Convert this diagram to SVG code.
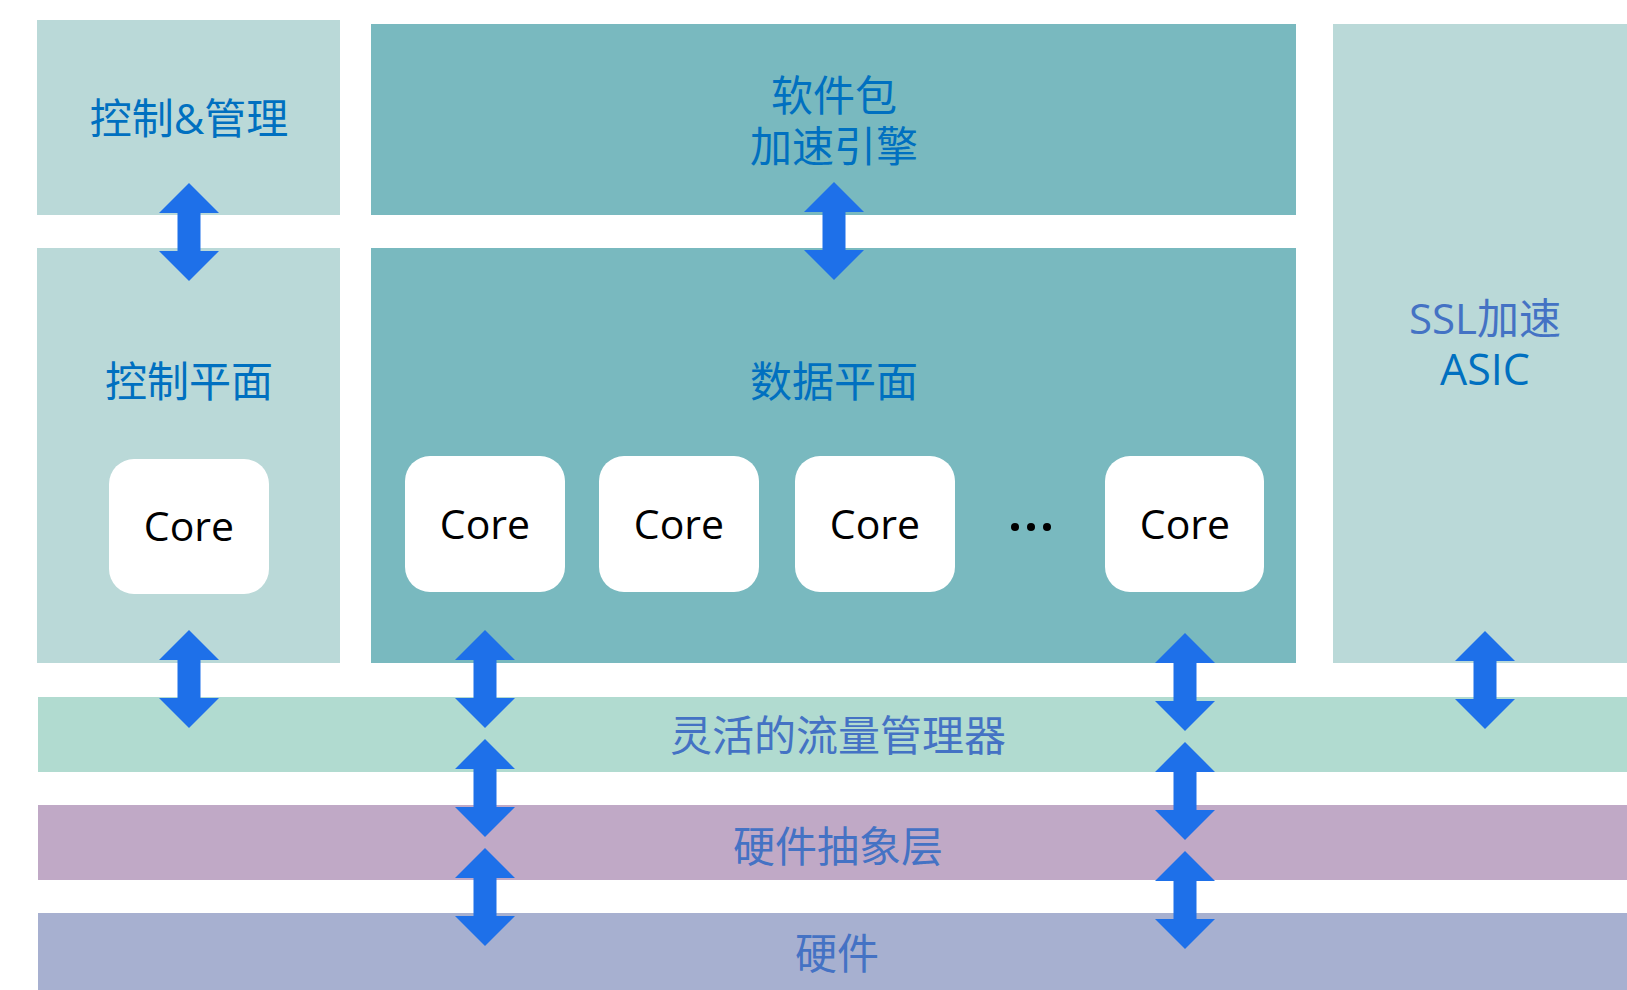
<svg xmlns="http://www.w3.org/2000/svg" width="1627" height="990" viewBox="0 0 1627 990">
<style>
.light{fill:#BAD9D8}
.dark{fill:#79B9BF}
.flow{fill:#B1DBD0}
.hal{fill:#C0A9C6}
.hw{fill:#A7B0D0}
.core{fill:#FFFFFF}
.t{font-family:"Open Sans","Noto Sans CJK SC",sans-serif;font-size:42px;text-anchor:middle}
.blue{fill:#0070C0}
.blue2{fill:#4472C4}
.ct{font-family:"Open Sans","Noto Sans",sans-serif;font-size:41px;fill:#000;text-anchor:middle}
.arr{fill:#1E70E9}
</style>
<defs>
<path id="dbl" class="arr" d="M0,0 L30,30 L11.5,30 L11.5,68 L30,68 L0,98 L-30,68 L-11.5,68 L-11.5,30 L-30,30 Z"/>
</defs>
<rect width="1627" height="990" fill="#FFFFFF"/>
<g id="ctrl-mgmt">
<rect class="light" x="37" y="20" width="303" height="195"/>
<text class="t blue" x="189" y="134">控制&amp;管理</text>
</g>
<g id="sw-accel">
<rect class="dark" x="371" y="24" width="925" height="191"/>
<text class="t blue" x="834" y="111">软件包</text>
<text class="t blue" x="834" y="162">加速引擎</text>
</g>
<g id="ctrl-plane">
<rect class="light" x="37" y="248" width="303" height="415"/>
<text class="t blue" x="189" y="397">控制平面</text>
</g>
<g id="data-plane">
<rect class="dark" x="371" y="248" width="925" height="415"/>
<text class="t blue" x="834" y="397">数据平面</text>
</g>
<g id="ssl">
<rect class="light" x="1333" y="24" width="294" height="639"/>
<text class="t blue2" x="1485" y="334">SSL加速</text>
<text class="t blue" x="1485" y="385" style="font-size:43px">ASIC</text>
</g>
<g id="core-ctrl">
<rect class="core" x="109" y="459" width="160" height="135" rx="25"/>
<text class="ct" x="189" y="541">Core</text>
</g>
<g id="core-1">
<rect class="core" x="405" y="456" width="160" height="136" rx="25"/>
<text class="ct" x="485" y="539">Core</text>
</g>
<g id="core-2">
<rect class="core" x="599" y="456" width="160" height="136" rx="25"/>
<text class="ct" x="679" y="539">Core</text>
</g>
<g id="core-3">
<rect class="core" x="795" y="456" width="160" height="136" rx="25"/>
<text class="ct" x="875" y="539">Core</text>
</g>
<g id="ellipsis">
<circle cx="1015" cy="527" r="4" fill="#000"/>
<circle cx="1031" cy="527" r="4" fill="#000"/>
<circle cx="1047" cy="527" r="4" fill="#000"/>
</g>
<g id="core-n">
<rect class="core" x="1105" y="456" width="159" height="136" rx="25"/>
<text class="ct" x="1185" y="539">Core</text>
</g>
<g id="flow-mgr">
<rect class="flow" x="38" y="697" width="1589" height="75"/>
<text class="t blue2" x="838" y="751">灵活的流量管理器</text>
</g>
<g id="hal">
<rect class="hal" x="38" y="805" width="1589" height="75"/>
<text class="t blue2" x="838" y="862">硬件抽象层</text>
</g>
<g id="hardware">
<rect class="hw" x="38" y="913" width="1589" height="77"/>
<text class="t blue2" x="837" y="969">硬件</text>
</g>
<g id="connectors">
<use href="#dbl" x="189" y="183"/>
<use href="#dbl" x="834" y="182"/>
<use href="#dbl" x="189" y="630"/>
<use href="#dbl" x="485" y="630"/>
<use href="#dbl" x="1185" y="633"/>
<use href="#dbl" x="1485" y="631"/>
<use href="#dbl" x="485" y="739"/>
<use href="#dbl" x="485" y="848"/>
<use href="#dbl" x="1185" y="742"/>
<use href="#dbl" x="1185" y="851"/>
</g>
</svg>
